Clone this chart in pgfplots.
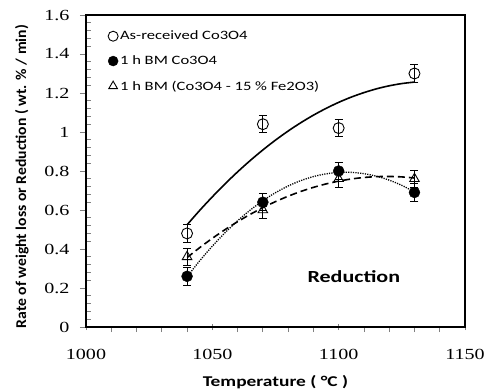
\documentclass[border=0pt]{standalone}
\usepackage{pgfplots}
\pgfplotsset{compat=1.18}
\usepackage{fontspec}
\setmainfont{Carlito}[FakeStretch=1.3]
\newfontfamily\ylabfont{Carlito}[FakeStretch=1.05]
\newfontfamily\tickfont{Liberation Serif}[FakeStretch=1.3]
\pgfplotsset{mylegend/.style={legend image code/.code={\draw[##1, mark size=5bp] plot coordinates {(5bp,0bp)};}}}
\begin{document}
\begin{tikzpicture}
\useasboundingbox (-86bp,-62bp) rectangle (404bp,327bp);
\begin{axis}[
  scale only axis, width=379bp, height=312bp,
  xmin=1000, xmax=1150, ymin=0, ymax=1.6,
  xtick={1000,1050,1100,1150},
  ytick={0,0.2,0.4,0.6,0.8,1,1.2,1.4,1.6},
  minor x tick num=4, minor y tick num=4,
  tick pos=left, tick align=inside,
  major tick length=6bp, minor tick length=5bp,
  major x tick style={yshift=-3bp, line width=0.8bp},
  minor x tick style={yshift=-5bp, line width=0.8bp},
  major y tick style={xshift=-6bp, line width=0.8bp},
  minor y tick style={line width=0.8bp},
  axis line style={line width=1.4bp},
  /pgf/number format/assume math mode=true,
  /pgf/number format/set thousands separator={},
  tick label style={font=\tickfont\fontsize{15.5}{17}\selectfont},
  xticklabel style={anchor=base, yshift=-32bp},
  yticklabel style={anchor=east, xshift=-13bp},
  every axis x label/.style={at={(axis description cs:0.5,0)}, anchor=base, yshift=-59bp, font=\bfseries\fontsize{15}{17}\selectfont},
  every axis y label/.style={at={(axis description cs:-0.169,0.482)}, anchor=center, rotate=90, font=\ylabfont\bfseries\fontsize{15}{16}\selectfont},
  xlabel={Temperature ( °C )},
  ylabel={Rate of weight loss  or Reduction ( wt. \% / min)},
  legend style={at={(axis description cs:0.05,0.962)}, anchor=north west, draw=none, fill=none,
    font=\fontsize{12.8}{14}\selectfont, row sep=10.5bp},
  legend cell align=left,
  error bars/error mark options={rotate=90, mark size=4bp, line width=1bp},
]
% trend lines
\addplot[forget plot, black, line width=1.6bp, smooth] coordinates {
 (1040,0.524) (1045,0.598) (1050,0.6675) (1055,0.7335) (1060,0.7956) (1065,0.8537)
 (1070,0.908) (1075,0.9584) (1080,1.0049) (1085,1.0475) (1090,1.0863) (1095,1.121)
 (1100,1.152) (1105,1.179) (1110,1.202) (1115,1.2215) (1120,1.2369) (1125,1.2484) (1130,1.256)};
\addplot[forget plot, black, line width=1.3bp, dash pattern=on 1.2bp off 1.2bp, smooth] coordinates {
 (1040,0.2575) (1045,0.3395) (1050,0.4147) (1055,0.4831) (1060,0.5447) (1065,0.5995)
 (1070,0.6475) (1075,0.6887) (1080,0.7231) (1085,0.7506) (1090,0.7714) (1095,0.7854)
 (1100,0.7925) (1105,0.7929) (1110,0.7864) (1115,0.7731) (1120,0.7531) (1125,0.7262) (1130,0.6925)};
\addplot[forget plot, black, line width=1.6bp, dash pattern=on 7bp off 4bp, smooth] coordinates {
 (1040,0.356) (1045,0.4070) (1050,0.4547) (1055,0.499) (1060,0.5400) (1065,0.5777)
 (1070,0.612) (1075,0.6430) (1080,0.6707) (1085,0.695) (1090,0.7160) (1095,0.7337)
 (1100,0.748) (1105,0.7590) (1110,0.7667) (1115,0.771) (1120,0.7720) (1125,0.7697) (1130,0.764)};
% data
\addplot[only marks, black, mark=o, mark size=5.5bp, mark options={line width=0.9bp}, mylegend,
  error bars/.cd, y dir=both, y explicit, error bar style={line width=1bp}]
 coordinates {(1040,0.48) +- (0,0.045) (1070,1.04) +- (0,0.045) (1100,1.02) +- (0,0.045) (1130,1.30) +- (0,0.045)};
\addlegendentry{As-received Co3O4}
\addplot[only marks, black, mark=*, mark size=5.5bp, mark options={fill=black}, mylegend,
  error bars/.cd, y dir=both, y explicit, error bar style={line width=1bp}]
 coordinates {(1040,0.26) +- (0,0.045) (1070,0.64) +- (0,0.045) (1100,0.80) +- (0,0.045) (1130,0.69) +- (0,0.045)};
\addlegendentry{1 h BM Co3O4}
\addplot[only marks, black, mark=triangle, mark size=5.5bp, mark options={line width=0.9bp}, mylegend,
  error bars/.cd, y dir=both, y explicit, error bar style={line width=1bp}]
 coordinates {(1040,0.36) +- (0,0.045) (1070,0.60) +- (0,0.045) (1100,0.76) +- (0,0.045) (1130,0.76) +- (0,0.045)};
\addlegendentry{1 h BM (Co3O4 - 15 \% Fe2O3)}
\node[font=\bfseries\fontsize{17}{20}\selectfont] at (axis cs:1106,0.256) {Reduction};
\end{axis}
\end{tikzpicture}
\end{document}
